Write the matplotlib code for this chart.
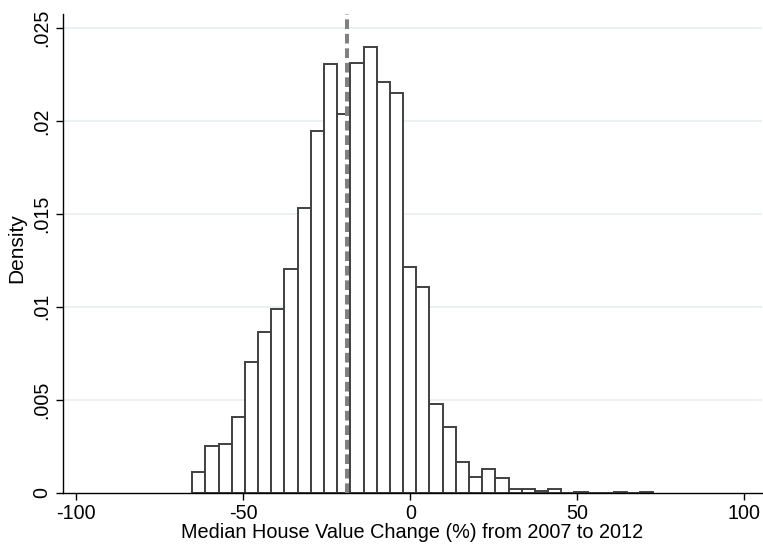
import numpy as np
import matplotlib
matplotlib.use("Agg")
import matplotlib.pyplot as plt

# Histogram data (density per bin)
bin_start = -65.3
bin_width = 3.946
density = [0.00113, 0.00251, 0.00263, 0.00409, 0.00703, 0.00864, 0.00987, 0.01201,
           0.01530, 0.01948, 0.02305, 0.02038, 0.02312, 0.02398, 0.02211, 0.02149,
           0.01215, 0.01108, 0.00477, 0.00351, 0.00163, 0.00082, 0.00125, 0.00077,
           0.00018, 0.00018, 0.00008, 0.00018, 0.0, 0.00006, 0.0, 0.0, 0.00006, 0.0, 0.00006]
mean_line = -18.9

x_ticks = [-100, -50, 0, 50, 100]
x_tick_labels = ["-100", "-50", "0", "50", "100"]
y_ticks = [0, 0.005, 0.01, 0.015, 0.02, 0.025]
y_tick_labels = ["0", ".005", ".01", ".015", ".02", ".025"]

plt.rcParams['font.family'] = ['Liberation Sans', 'DejaVu Sans']

W, H = 763, 546
fig = plt.figure(figsize=(W / 100, H / 100), dpi=100)
ax = fig.add_axes([63 / W, (H - 492.7) / H, (762 - 63) / W, (492.7 - 14) / H])

edges = bin_start + bin_width * np.arange(len(density))
for y in y_ticks[1:]:
    ax.axhline(y, color='#e8eff1', lw=1.2, zorder=0)

ax.bar(edges, density, width=bin_width, align='edge', facecolor='white',
       edgecolor='#404040', linewidth=1.4, zorder=2)
ax.axvline(mean_line, color='#808080', lw=2.9, ls=(0, (2.4, 1.2)), zorder=3)

ax.set_xlim(-104.0, 105.3)
ax.set_ylim(0, 0.02575)
ax.set_xticks(x_ticks)
ax.set_xticklabels(x_tick_labels)
ax.set_yticks(y_ticks)
ax.set_yticklabels(y_tick_labels, rotation=90, va='center')
ax.tick_params(axis='both', direction='out', length=5, width=1, labelsize=14.2, color='black')
ax.tick_params(axis='y', pad=3.5)
ax.tick_params(axis='x', pad=3.3)

for s in ['top', 'right']:
    ax.spines[s].set_visible(False)
for s in ['left', 'bottom']:
    ax.spines[s].set_linewidth(1.0)

ax.set_xlabel("Median House Value Change (%) from 2007 to 2012", fontsize=14.3, labelpad=0)
ax.set_ylabel("Density", fontsize=15)
ax.yaxis.set_label_coords(-0.053, 0.511)

fig.savefig("out.png", dpi=100, facecolor='white')
